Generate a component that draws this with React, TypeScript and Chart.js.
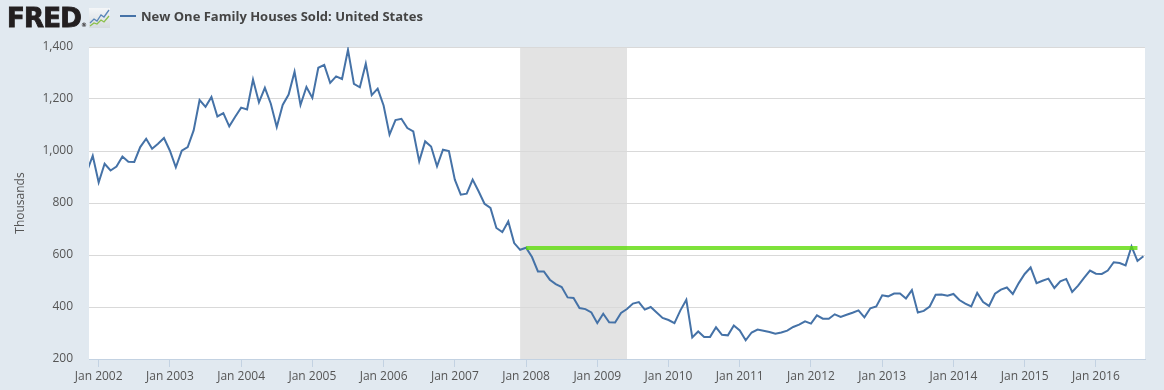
import React, { useEffect, useRef } from 'react';
import { Chart, registerables } from 'chart.js';

Chart.register(...registerables);

// Monthly series, Nov 2001 .. Sep 2016 (thousands, SAAR)
const firstMonth = { year: 2001, month: 11 };
const v2001 = [920, 982];
const v2002 = [879, 951, 925, 940, 979, 959, 958, 1015, 1047, 1009, 1028, 1050];
const v2003 = [1001, 937, 1001, 1015, 1079, 1196, 1170, 1208, 1133, 1146, 1095, 1132];
const v2004 = [1167, 1160, 1275, 1187, 1243, 1182, 1092, 1177, 1217, 1305, 1177, 1246];
const v2005 = [1204, 1320, 1331, 1262, 1287, 1277, 1389, 1258, 1245, 1336, 1215, 1240];
const v2006 = [1175, 1063, 1119, 1124, 1088, 1075, 960, 1037, 1017, 941, 1005, 1000];
const v2007 = [890, 832, 836, 890, 845, 797, 781, 704, 688, 729, 646, 620];
const v2008 = [628, 592, 537, 537, 505, 488, 477, 437, 435, 396, 392, 379];
const v2009 = [338, 374, 341, 340, 377, 392, 413, 419, 390, 400, 379, 358];
const v2010 = [350, 338, 387, 428, 283, 306, 285, 285, 322, 293, 291, 329];
const v2011 = [310, 272, 302, 313, 309, 304, 297, 302, 309, 323, 332, 345];
const v2012 = [336, 368, 355, 355, 372, 362, 370, 378, 387, 360, 395, 402];
const v2013 = [445, 441, 452, 452, 433, 465, 379, 385, 402, 447, 448, 443];
const v2014 = [450, 427, 413, 402, 454, 419, 404, 451, 467, 475, 450, 492];
const v2015 = [527, 552, 492, 501, 509, 473, 499, 508, 458, 482, 512, 540];
const v2016 = [528, 527, 540, 572, 569, 560, 633, 577, 595];

const seriesValues = [
  ...v2001, ...v2002, ...v2003, ...v2004, ...v2005, ...v2006, ...v2007, ...v2008,
  ...v2009, ...v2010, ...v2011, ...v2012, ...v2013, ...v2014, ...v2015, ...v2016,
];

const xTickLabels = [
  'Jan 2002', 'Jan 2003', 'Jan 2004', 'Jan 2005', 'Jan 2006', 'Jan 2007', 'Jan 2008',
  'Jan 2009', 'Jan 2010', 'Jan 2011', 'Jan 2012', 'Jan 2013', 'Jan 2014', 'Jan 2015', 'Jan 2016',
];
const yTickValues = [200, 400, 600, 800, 1000, 1200, 1400];

// Recession shading (Dec 2007 – Jun 2009)
const recessionStart = { year: 2007, month: 12 };
const recessionEnd = { year: 2009, month: 6 };

// Horizontal reference line
const refLineValue = 627;
const refLineStart = { year: 2008, month: 1 };
const refLineEnd = { year: 2016, month: 8 };

// Visible x range (months relative to Jan 2002)
const xMin = -1.63;
const xMax = 176.27;

const idx = (d: { year: number; month: number }) => (d.year - 2002) * 12 + (d.month - 1);
const firstIdx = idx(firstMonth);

const TITLE = 'New One Family Houses Sold: United States';
const FONT = "'Open Sans', 'DejaVu Sans', sans-serif";

export default function App() {
  const canvasRef = useRef<HTMLCanvasElement | null>(null);

  useEffect(() => {
    const canvas = canvasRef.current;
    if (!canvas) return;

    const bgPlugin = {
      id: 'plotBg',
      beforeDraw(chart: any) {
        const { ctx, chartArea, scales } = chart;
        ctx.save();
        ctx.fillStyle = '#ffffff';
        ctx.fillRect(chartArea.left, chartArea.top, chartArea.right - chartArea.left, chartArea.bottom - chartArea.top);
        const x0 = scales.x.getPixelForValue(idx(recessionStart));
        const x1 = scales.x.getPixelForValue(idx(recessionEnd));
        ctx.fillStyle = '#e3e3e3';
        ctx.fillRect(x0, chartArea.top, x1 - x0, chartArea.bottom - chartArea.top);
        ctx.restore();
      },
    };

    const tickValues = xTickLabels.map((_, i) => i * 12);

    const chart = new Chart(canvas, {
      type: 'line',
      data: {
        datasets: [
          {
            label: 'reference',
            data: [
              { x: idx(refLineStart), y: refLineValue },
              { x: idx(refLineEnd), y: refLineValue },
            ],
            borderColor: 'rgba(94,219,9,0.8)',
            borderWidth: 4,
            pointRadius: 0,
            tension: 0,
            clip: 0,
          } as any,
          {
            label: TITLE,
            data: seriesValues.map((v, i) => ({ x: firstIdx + i, y: v })),
            borderColor: '#4572a7',
            borderWidth: 2,
            pointRadius: 0,
            tension: 0,
            clip: 0,
          } as any,
        ],
      },
      options: {
        animation: false,
        responsive: false,
        maintainAspectRatio: false,
        layout: { padding: { left: 8, right: 19, top: 47, bottom: 0 } },
        plugins: {
          legend: { display: false },
          tooltip: { enabled: false },
        },
        scales: {
          x: {
            type: 'linear',
            min: xMin,
            max: xMax,
            afterBuildTicks: (s: any) => {
              s.ticks = tickValues.map((v) => ({ value: v }));
            },
            afterFit: (s: any) => {
              s.height = 31;
            },
            ticks: {
              autoSkip: false,
              maxRotation: 0,
              minRotation: 0,
              padding: 2,
              color: '#555555',
              font: { family: FONT, size: 12 },
              callback: (v: any) => {
                const i = tickValues.indexOf(Number(v));
                return i >= 0 ? xTickLabels[i] : '';
              },
            },
            grid: {
              drawOnChartArea: false,
              drawTicks: true,
              tickLength: 8,
              color: '#c3d2e2',
            },
            border: { color: '#c3d2e2', width: 1 },
          },
          y: {
            type: 'linear',
            min: yTickValues[0],
            max: yTickValues[yTickValues.length - 1],
            afterBuildTicks: (s: any) => {
              s.ticks = yTickValues.map((v) => ({ value: v }));
            },
            afterFit: (s: any) => {
              s.width = 81;
            },
            ticks: {
              padding: 16,
              color: '#555555',
              font: { family: FONT, size: 12 },
              callback: (v: any) => Number(v).toLocaleString('en-US'),
            },
            grid: {
              color: '#d9d9d9',
              drawTicks: false,
            },
            border: { display: false },
            title: {
              display: true,
              text: 'Thousands',
              color: '#555555',
              font: { family: FONT, size: 12 },
              padding: { top: 5, bottom: 0 },
            },
          },
        },
      } as any,
      plugins: [bgPlugin],
    });

    return () => chart.destroy();
  }, []);

  return (
    <div
      style={{
        position: 'absolute',
        left: 0,
        top: 0,
        width: 1164,
        height: 390,
        background: '#e1e9f0',
        overflow: 'hidden',
      }}
    >
      <canvas ref={canvasRef} width={1164} height={390} style={{ position: 'absolute', left: 0, top: 0 }} />
      <div
        style={{
          position: 'absolute',
          left: 7,
          top: 5,
          fontFamily: "'DejaVu Sans', sans-serif",
          fontWeight: 'bold',
          fontSize: 26,
          lineHeight: '26px',
          color: '#231f20',
          letterSpacing: '-0.8px',
          WebkitTextStroke: '0.9px #231f20',
          whiteSpace: 'nowrap',
        }}
      >
        FRED
        <span style={{ fontSize: 6, verticalAlign: 'baseline', letterSpacing: 0, WebkitTextStroke: '0px' }}>®</span>
      </div>
      <svg
        style={{ position: 'absolute', left: 89, top: 8 }}
        width={21}
        height={20}
        viewBox="0 0 21 20"
      >
        <defs>
          <linearGradient id="ig" x1="0" y1="0" x2="0" y2="1">
            <stop offset="0" stopColor="#f4f6f8" />
            <stop offset="1" stopColor="#d6dbe0" />
          </linearGradient>
        </defs>
        <rect x="0" y="0" width="21" height="20" fill="url(#ig)" />
        <polyline points="1,15 5,11 8,13 12,7 15,9 20,2" fill="none" stroke="#5a86b8" strokeWidth="1.3" />
        <polyline points="1,18 5,15 8,16 12,12 15,14 20,8" fill="none" stroke="#8bbf4a" strokeWidth="1.3" />
      </svg>
      <div
        style={{
          position: 'absolute',
          left: 120,
          top: 15,
          width: 16,
          height: 2,
          background: '#4572a7',
        }}
      />
      <div
        style={{
          position: 'absolute',
          left: 141,
          top: 7,
          height: 18,
          lineHeight: '18px',
          fontFamily: FONT,
          fontWeight: 'bold',
          fontSize: 13,
          color: '#444444',
          whiteSpace: 'nowrap',
        }}
      >
        {TITLE}
      </div>
    </div>
  );
}
